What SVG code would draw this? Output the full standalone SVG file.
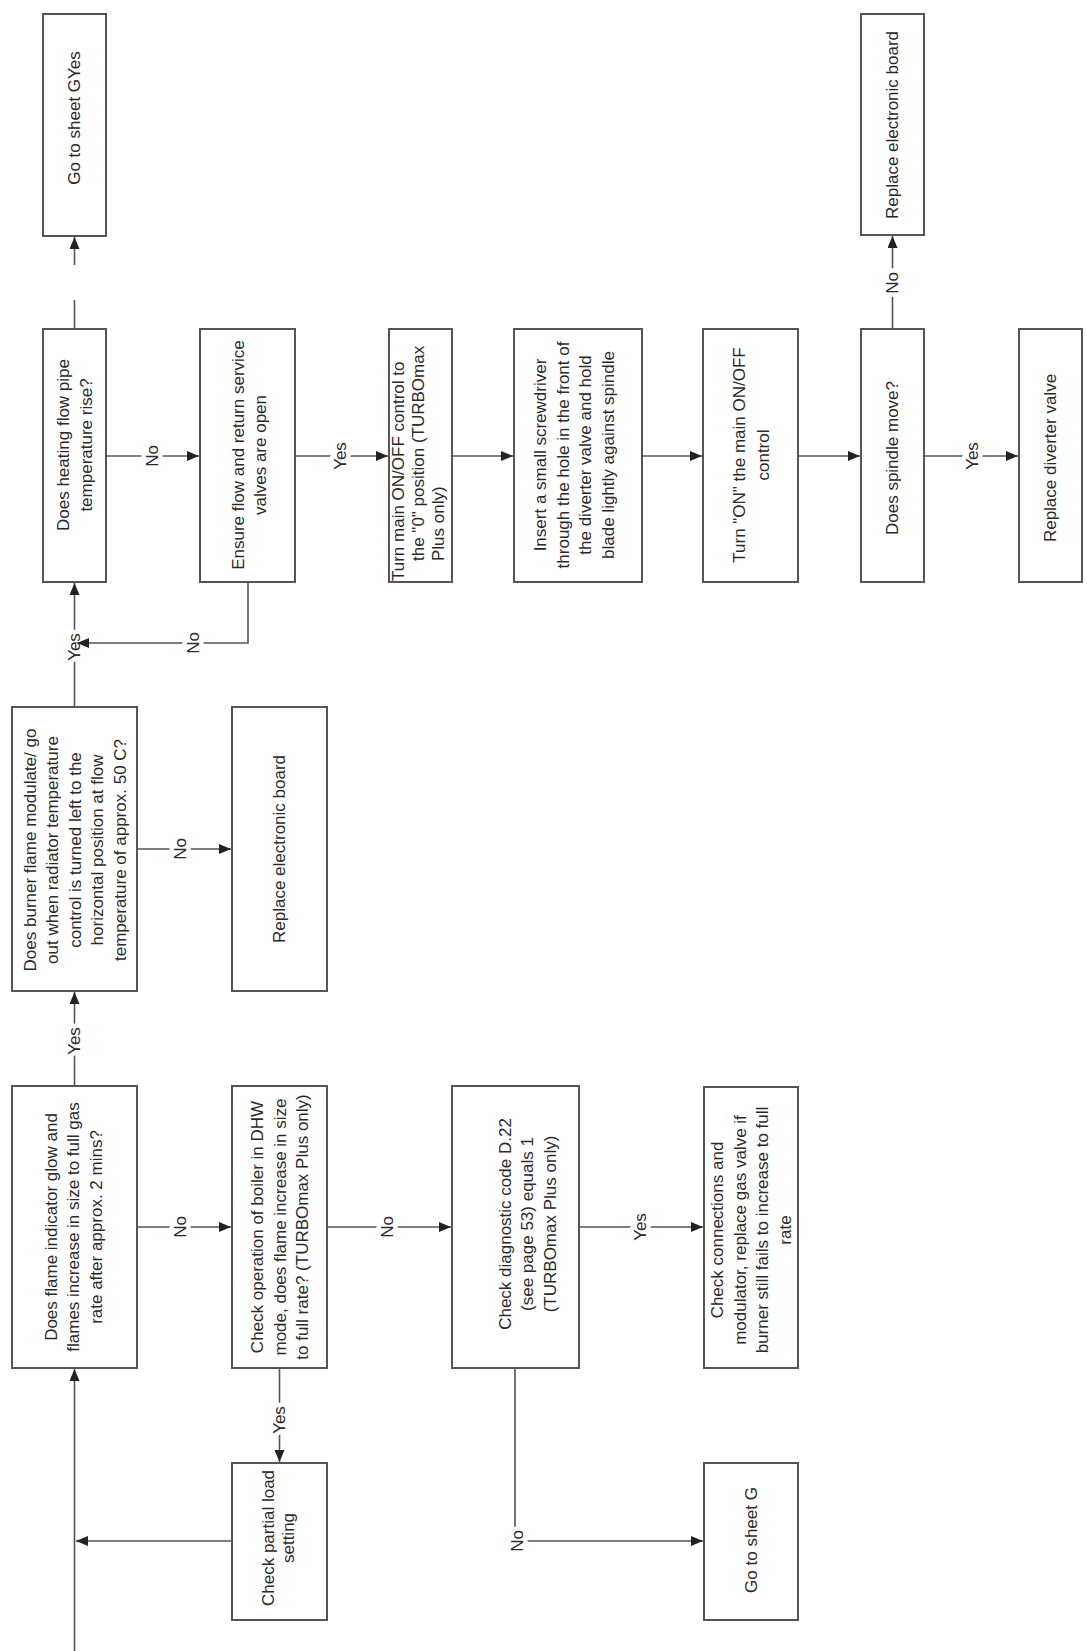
<svg xmlns="http://www.w3.org/2000/svg" width="1087" height="1651" viewBox="0 0 1087 1651">
<style>
.bg{fill:#fff}
.box{fill:#fff;stroke:#555;stroke-width:2}
.ln{fill:none;stroke:#555;stroke-width:1.6}
.t{font-family:"Liberation Sans",Arial,sans-serif;font-size:17px;fill:#2a2a2a;text-anchor:middle;dominant-baseline:central}
.ts{text-anchor:start}
.lbl{font-family:"Liberation Sans",Arial,sans-serif;font-size:17px;fill:#2a2a2a;text-anchor:middle;dominant-baseline:central;stroke:#fff;stroke-width:9;stroke-linejoin:round;paint-order:stroke fill}
</style>
<defs>
<marker id="ah" markerUnits="userSpaceOnUse" markerWidth="12" markerHeight="10" refX="12" refY="5" orient="auto">
<path d="M0,0 L12,5 L0,10 z" fill="#222"/>
</marker>
</defs>
<rect class="bg" x="0" y="0" width="1087" height="1651"/>

<g id="connectors">
<line class="ln" x1="74.5" y1="329" x2="74.5" y2="300"/>
<line class="ln" x1="74.5" y1="265" x2="74.5" y2="237" marker-end="url(#ah)"/>
<line class="ln" x1="106" y1="456" x2="199" y2="456" marker-end="url(#ah)"/>
<line class="ln" x1="295" y1="456" x2="388" y2="456" marker-end="url(#ah)"/>
<line class="ln" x1="452" y1="456" x2="513" y2="456" marker-end="url(#ah)"/>
<line class="ln" x1="642" y1="456" x2="702" y2="456" marker-end="url(#ah)"/>
<line class="ln" x1="798" y1="456" x2="860" y2="456" marker-end="url(#ah)"/>
<line class="ln" x1="924" y1="456" x2="1018" y2="456" marker-end="url(#ah)"/>
<line class="ln" x1="892.5" y1="329" x2="892.5" y2="236" marker-end="url(#ah)"/>
<line class="ln" x1="74.5" y1="707" x2="74.5" y2="583" marker-end="url(#ah)"/>
<line class="ln" x1="74.5" y1="1086" x2="74.5" y2="992" marker-end="url(#ah)"/>
<line class="ln" x1="137" y1="849" x2="231" y2="849" marker-end="url(#ah)"/>
<line class="ln" x1="137" y1="1227" x2="231" y2="1227" marker-end="url(#ah)"/>
<line class="ln" x1="327" y1="1227" x2="451" y2="1227" marker-end="url(#ah)"/>
<line class="ln" x1="579" y1="1227" x2="703" y2="1227" marker-end="url(#ah)"/>
<line class="ln" x1="279.5" y1="1368" x2="279.5" y2="1462" marker-end="url(#ah)"/>
<line class="ln" x1="232" y1="1541" x2="76" y2="1541" marker-end="url(#ah)"/>
<line class="ln" x1="74.5" y1="1651" x2="74.5" y2="1369" marker-end="url(#ah)"/>
<polyline class="ln" points="515,1368 515,1541 703,1541" marker-end="url(#ah)"/>
<text class="lbl" transform="translate(152,456) rotate(-90)">No</text>
<text class="lbl" transform="translate(340,456) rotate(-90)">Yes</text>
<text class="lbl" transform="translate(972,456) rotate(-90)">Yes</text>
<text class="lbl" transform="translate(892.5,283) rotate(-90)">No</text>
<text class="lbl" transform="translate(74.5,647) rotate(-90)">Yes</text>
<text class="lbl" transform="translate(74.5,1041) rotate(-90)">Yes</text>
<text class="lbl" transform="translate(180,849) rotate(-90)">No</text>
<text class="lbl" transform="translate(180,1227) rotate(-90)">No</text>
<text class="lbl" transform="translate(387,1227) rotate(-90)">No</text>
<text class="lbl" transform="translate(640,1227) rotate(-90)">Yes</text>
<text class="lbl" transform="translate(279.5,1420) rotate(-90)">Yes</text>
<text class="lbl" transform="translate(517,1541) rotate(-90)">No</text>
<polyline class="ln" points="248,582 248,643 77,643" marker-end="url(#ah)"/>
<text class="lbl" transform="translate(193,643) rotate(-90)">No</text>
</g>

<g id="go-sheet-g-yes">
<rect class="box" x="43" y="14" width="63" height="222"/>
<text class="t" transform="translate(74.5,118) rotate(-90)">Go to sheet GYes</text>
</g>
<g id="heating-flow-rise">
<rect class="box" x="43" y="329" width="63" height="253"/>
<text class="t" transform="translate(74.5,445) rotate(-90)"><tspan x="0" y="-11.25">Does heating flow pipe</tspan><tspan x="0" y="11.25">temperature rise?</tspan></text>
</g>
<g id="ensure-valves">
<rect class="box" x="200" y="329" width="95" height="253"/>
<text class="t" transform="translate(249,455) rotate(-90)"><tspan x="0" y="-11.25">Ensure flow and return service</tspan><tspan x="0" y="11.25">valves are open</tspan></text>
</g>
<g id="turn-off">
<rect class="box" x="389" y="329" width="63" height="253"/>
<text class="t ts" transform="translate(398,581) rotate(-90)"><tspan x="0" y="0">Turn main ON/OFF control to</tspan><tspan x="20" y="20">the "0" position  (TURBOmax</tspan><tspan x="20" y="40">Plus only)</tspan></text>
</g>
<g id="insert-screwdriver">
<rect class="box" x="514" y="329" width="128" height="253"/>
<text class="t" transform="translate(574,455) rotate(-90)"><tspan x="0" y="-33.75">Insert a small screwdriver</tspan><tspan x="0" y="-11.25">through the hole in the front of</tspan><tspan x="0" y="11.25">the diverter valve and hold</tspan><tspan x="0" y="33.75">blade lightly against spindle</tspan></text>
</g>
<g id="turn-on">
<rect class="box" x="703" y="329" width="95" height="253"/>
<text class="t" transform="translate(750.5,455) rotate(-90)"><tspan x="0" y="-12">Turn "ON" the main ON/OFF</tspan><tspan x="0" y="12">control</tspan></text>
</g>
<g id="spindle-move">
<rect class="box" x="861" y="329" width="63" height="253"/>
<text class="t" transform="translate(892.5,458) rotate(-90)">Does spindle move?</text>
</g>
<g id="replace-diverter">
<rect class="box" x="1019" y="329" width="63" height="253"/>
<text class="t" transform="translate(1050.5,458) rotate(-90)">Replace diverter valve</text>
</g>
<g id="replace-board-top">
<rect class="box" x="861" y="14" width="63" height="221"/>
<text class="t" transform="translate(892.5,125) rotate(-90)">Replace electronic board</text>
</g>
<g id="burner-modulate">
<rect class="box" x="12" y="707" width="125" height="284"/>
<text class="t" transform="translate(74.5,850) rotate(-90)"><tspan x="0" y="-45">Does burner flame modulate/ go</tspan><tspan x="0" y="-22.5">out when radiator temperature</tspan><tspan x="0" y="0">control is turned left to the</tspan><tspan x="0" y="22.5">horizontal position at flow</tspan><tspan x="0" y="45">temperature of approx. 50 C?</tspan></text>
</g>
<g id="replace-board-mid">
<rect class="box" x="232" y="707" width="95" height="284"/>
<text class="t" transform="translate(279,849) rotate(-90)">Replace electronic board</text>
</g>
<g id="flame-indicator">
<rect class="box" x="12" y="1086" width="125" height="282"/>
<text class="t" transform="translate(73,1227) rotate(-90)"><tspan x="0" y="-22.5">Does flame indicator glow and</tspan><tspan x="0" y="0">flames increase in size to full gas</tspan><tspan x="0" y="22.5">rate after approx. 2 mins?</tspan></text>
</g>
<g id="check-dhw">
<rect class="box" x="232" y="1086" width="95" height="282"/>
<text class="t" transform="translate(279.5,1227) rotate(-90)"><tspan x="0" y="-22.5">Check operation of boiler in DHW</tspan><tspan x="0" y="0">mode, does flame increase in size</tspan><tspan x="0" y="22.5">to full rate? (TURBOmax Plus only)</tspan></text>
</g>
<g id="partial-load">
<rect class="box" x="232" y="1463" width="95" height="157"/>
<text class="t" transform="translate(278,1538) rotate(-90)"><tspan x="0" y="-10">Check partial load</tspan><tspan x="0" y="10">setting</tspan></text>
</g>
<g id="diagnostic-d22">
<rect class="box" x="452" y="1086" width="127" height="282"/>
<text class="t" transform="translate(527,1224) rotate(-90)"><tspan x="0" y="-22.5">Check diagnostic code D.22</tspan><tspan x="0" y="0">(see page 53) equals 1</tspan><tspan x="0" y="22.5">(TURBOmax Plus only)</tspan></text>
</g>
<g id="check-connections">
<rect class="box" x="704" y="1087" width="94" height="281"/>
<text class="t" transform="translate(751,1230) rotate(-90)"><tspan x="0" y="-33.75">Check connections and</tspan><tspan x="0" y="-11.25">modulator, replace gas valve if</tspan><tspan x="0" y="11.25">burner still fails to increase to full</tspan><tspan x="0" y="33.75">rate</tspan></text>
</g>
<g id="go-sheet-g">
<rect class="box" x="704" y="1463" width="94" height="157"/>
<text class="t" transform="translate(751,1540) rotate(-90)">Go to sheet G</text>
</g>
</svg>
